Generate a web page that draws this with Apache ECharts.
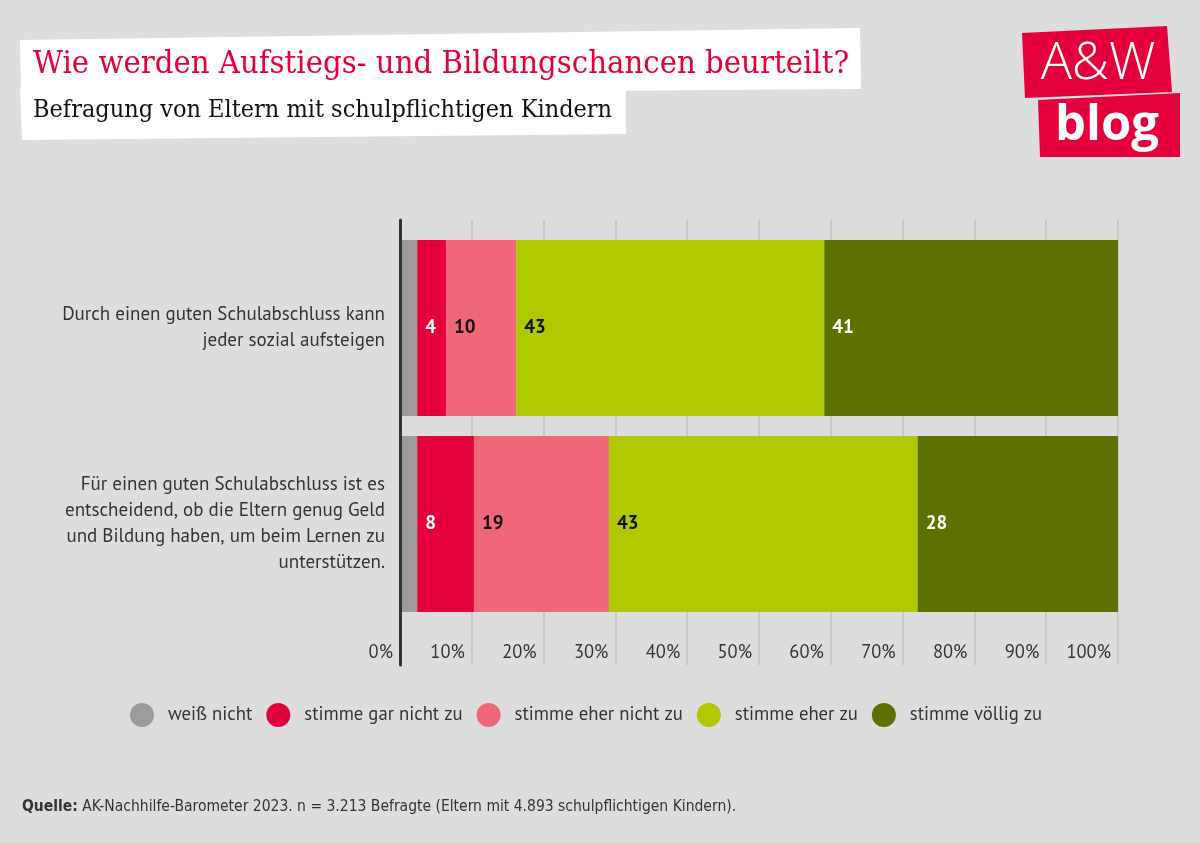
<!DOCTYPE html>
<html><head><meta charset="utf-8">
<script src="https://cdn.jsdelivr.net/npm/echarts@6/dist/echarts.min.js"></script>
<style>html,body{margin:0;padding:0;background:#dddddd}#c{width:1200px;height:843px}</style>
</head><body><div id="c"></div>
<script>
const categories = [
  "Durch einen guten Schulabschluss kann\njeder sozial aufsteigen",
  "Für einen guten Schulabschluss ist es\nentscheidend, ob die Eltern genug Geld\nund Bildung haben, um beim Lernen zu\nunterstützen."
];
const seriesNames = ["weiß nicht", "stimme gar nicht zu", "stimme eher nicht zu", "stimme eher zu", "stimme völlig zu"];
const weissNicht = [2.4, 2.4];
const garNicht = [4.0, 7.9];
const eherNicht = [9.8, 18.8];
const eherZu = [42.9, 43.0];
const voellig = [40.9, 27.9];
const xMin = 0, xMax = 100, xStep = 10;
const titleText = "Wie werden Aufstiegs- und Bildungschancen beurteilt?";
const subtitleText = "Befragung von Eltern mit schulpflichtigen Kindern";
const sourceLabel = "Quelle:";
const sourceText = " AK-Nachhilfe-Barometer 2023. n = 3.213 Befragte (Eltern mit 4.893 schulpflichtigen Kindern).";

const colors = ["#9b9b9b", "#e4003a", "#ef6877", "#afc800", "#5a7300"];
const labelColors = [null, "#ffffff", "#111111", "#111111", "#ffffff"];
const values = [weissNicht, garNicht, eherNicht, eherZu, voellig];
const bodyFont = "'PT Sans', Lato, 'Noto Sans', sans-serif";
const narrowFont = "'Liberation Sans Narrow', 'DejaVu Sans Condensed', sans-serif";

const chart = echarts.init(document.getElementById('c'), null, {renderer: 'canvas'});
const series = values.map((v, i) => ({
  name: seriesNames[i],
  type: 'bar',
  stack: 'total',
  xAxisIndex: 1,
  yAxisIndex: 1,
  barWidth: 176,
  data: v,
  itemStyle: {color: colors[i]},
  label: {
    show: i > 0,
    position: 'insideLeft',
    distance: 8,
    formatter: p => Math.round(p.value),
    color: labelColors[i] || '#000',
    fontFamily: bodyFont,
    fontWeight: 'bold',
    fontSize: 19
  },
  emphasis: {disabled: true}
}));

chart.setOption({
  backgroundColor: '#dddddd',
  animation: false,
  textStyle: {fontFamily: bodyFont},
  grid: [
    {left: 400, right: 82, top: 220, bottom: 178},
    {left: 400, right: 82, top: 230, bottom: 221}
  ],
  xAxis: [
    {gridIndex: 0, type: 'value', min: xMin, max: xMax, interval: xStep,
     axisLine: {show: false}, axisTick: {show: false},
     splitLine: {show: true, lineStyle: {color: '#c2c2c2', width: 1.5}},
     axisLabel: {inside: true, margin: 3, align: 'right', padding: [0, 7, 0, 0],
                 formatter: '{value}%', fontSize: 18.5, color: '#333', fontFamily: bodyFont}},
    {gridIndex: 1, type: 'value', min: xMin, max: xMax, show: false}
  ],
  yAxis: [
    {gridIndex: 0, type: 'value', z: 10,
     axisLine: {show: true, lineStyle: {color: '#333', width: 3}},
     axisTick: {show: false}, axisLabel: {show: false}, splitLine: {show: false}},
    {gridIndex: 1, type: 'category', inverse: true, data: categories,
     axisLine: {show: false}, axisTick: {show: false},
     axisLabel: {margin: 15, fontSize: 19, lineHeight: 26, color: '#333', align: 'right', fontFamily: bodyFont}}
  ],
  legend: {
    data: seriesNames, left: 130, top: 703, padding: 0, icon: 'circle', itemWidth: 24, itemHeight: 24, itemGap: 14,
    textStyle: {fontSize: 18.7, color: '#333', padding: [0, 0, 0, 9], fontFamily: bodyFont},
    selectedMode: false
  },
  series: series,
  graphic: [
    {type: 'polygon', shape: {points: [[20, 40], [860, 28], [861, 89], [21, 95]]}, style: {fill: '#ffffff'}, z: 1},
    {type: 'polygon', shape: {points: [[20, 89], [626, 89], [626, 134], [22, 140]]}, style: {fill: '#ffffff'}, z: 1},
    {type: 'text', left: 33, top: 48, z: 2, style: {text: titleText, fill: '#e4003a', font: "32.5px 'DejaVu Serif Condensed', 'DejaVu Serif', serif"}},
    {type: 'text', left: 33, top: 98, z: 2, style: {text: subtitleText, fill: '#111', font: "25px 'DejaVu Serif Condensed', 'DejaVu Serif', serif"}},
    {type: 'polygon', shape: {points: [[1022, 33], [1167, 26], [1172, 92], [1025, 98]]}, style: {fill: '#e4003a'}, z: 1},
    {type: 'polygon', shape: {points: [[1038, 100], [1180, 93], [1180, 157], [1040, 157]]}, style: {fill: '#e4003a'}, z: 1},
    {type: 'text', x: 1098, y: 64, z: 2, style: {text: 'A&W', fill: '#fff', align: 'center', verticalAlign: 'middle', font: "300 52px 'Open Sans', sans-serif"}},
    {type: 'text', x: 1107, y: 126, z: 2, style: {text: 'blog', fill: '#fff', align: 'center', verticalAlign: 'middle', font: "bold 49px 'Open Sans', sans-serif"}},
    {type: 'text', left: 22, top: 799, z: 2, style: {
      text: '{b|' + sourceLabel + '}' + sourceText,
      fill: '#333', font: "15.5px " + narrowFont,
      rich: {b: {fontWeight: 'bold', fontSize: 15.5, fontFamily: narrowFont, fill: '#333'}}
    }}
  ]
});
</script></body></html>
